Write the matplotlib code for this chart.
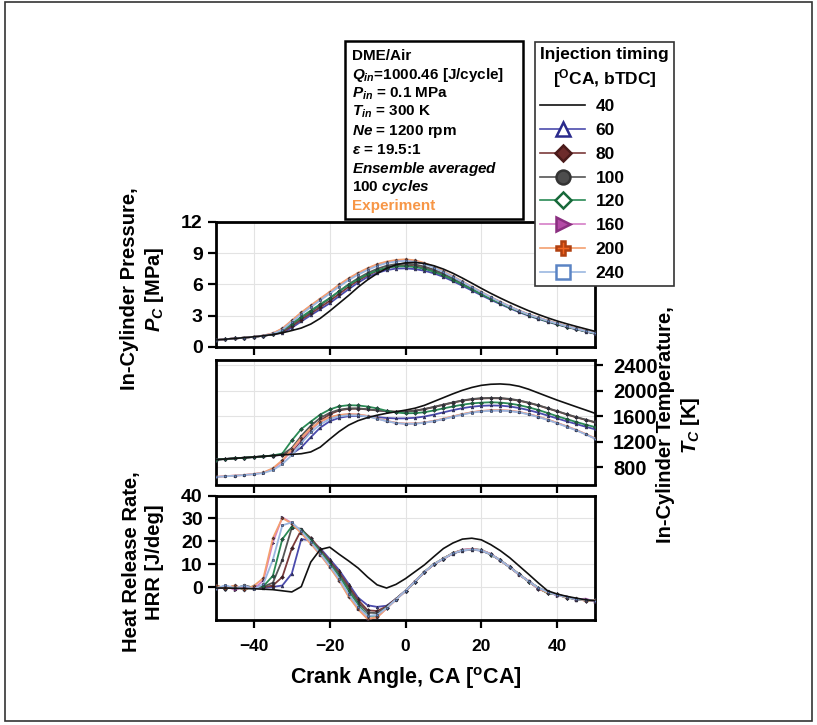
import numpy as np
import matplotlib
matplotlib.use("Agg")
import matplotlib.pyplot as plt
from matplotlib.lines import Line2D
from matplotlib.patches import Rectangle

plt.rcParams['font.family'] = ['Liberation Sans', 'DejaVu Sans']
plt.rcParams['font.weight'] = 'bold'
plt.rcParams['mathtext.fontset'] = 'custom'
plt.rcParams['mathtext.rm'] = 'Liberation Sans:bold'
plt.rcParams['mathtext.bf'] = 'Liberation Sans:bold'
plt.rcParams['mathtext.it'] = 'Liberation Sans:italic:bold'

# crank angle grid [deg CA], step 2.5
ca = np.arange(-50, 50.01, 2.5)

timings = ['40', '60', '80', '100', '120', '160', '200', '240']

# in-cylinder pressure [MPa]
p_40 = [0.67, 0.75, 0.82, 0.90, 0.98, 1.08, 1.20, 1.36, 1.58, 1.82, 2.2, 2.75, 3.45, 4.2, 4.95, 5.75, 6.45, 7.05, 7.55, 7.9, 8.08,
        8.12, 8.02, 7.8, 7.48, 7.08, 6.62, 6.13, 5.63, 5.15, 4.7, 4.27, 3.87, 3.48, 3.13, 2.8, 2.5, 2.23, 1.98, 1.74, 1.5]
p_60 = [0.67, 0.75, 0.82, 0.90, 0.98, 1.08, 1.20, 1.38, 1.85, 2.45, 3.05, 3.62, 4.2, 4.88, 5.55, 6.18, 6.72, 7.1, 7.38, 7.53, 7.55,
        7.48, 7.32, 7.07, 6.73, 6.32, 5.88, 5.42, 4.97, 4.53, 4.12, 3.72, 3.34, 3.0, 2.7, 2.42, 2.16, 1.92, 1.7, 1.48, 1.27]
p_80 = [0.67, 0.75, 0.82, 0.90, 0.98, 1.08, 1.21, 1.45, 2.0, 2.62, 3.22, 3.82, 4.42, 5.1, 5.78, 6.38, 6.9, 7.3, 7.6, 7.78, 7.83,
        7.76, 7.58, 7.3, 6.94, 6.52, 6.06, 5.59, 5.12, 4.66, 4.23, 3.82, 3.43, 3.08, 2.77, 2.48, 2.21, 1.96, 1.73, 1.51, 1.3]
p_100 = [0.67, 0.75, 0.82, 0.90, 0.98, 1.08, 1.22, 1.55, 2.15, 2.78, 3.4, 4.02, 4.65, 5.35, 6.02, 6.6, 7.1, 7.5, 7.8, 7.96, 8.0,
         7.92, 7.72, 7.42, 7.05, 6.62, 6.15, 5.67, 5.19, 4.72, 4.28, 3.86, 3.47, 3.11, 2.8, 2.5, 2.23, 1.98, 1.75, 1.53, 1.32]
p_120 = [0.67, 0.75, 0.82, 0.90, 0.98, 1.09, 1.25, 1.62, 2.25, 2.88, 3.5, 4.1, 4.7, 5.35, 5.98, 6.52, 6.98, 7.35, 7.6, 7.73, 7.75,
         7.68, 7.5, 7.22, 6.87, 6.45, 6.0, 5.53, 5.07, 4.62, 4.2, 3.79, 3.41, 3.06, 2.75, 2.46, 2.2, 1.95, 1.72, 1.5, 1.3]
p_160 = [0.67, 0.75, 0.82, 0.90, 0.98, 1.10, 1.30, 1.75, 2.52, 3.28, 3.95, 4.6, 5.25, 5.95, 6.55, 7.07, 7.52, 7.9, 8.15, 8.3, 8.35,
         8.26, 8.02, 7.67, 7.23, 6.77, 6.28, 5.78, 5.28, 4.79, 4.33, 3.89, 3.49, 3.13, 2.83, 2.53, 2.27, 2.0, 1.77, 1.55, 1.35]
p_200 = [0.67, 0.75, 0.82, 0.90, 0.98, 1.10, 1.32, 1.78, 2.55, 3.32, 4.0, 4.65, 5.3, 6.0, 6.6, 7.12, 7.57, 7.95, 8.2, 8.36, 8.42,
         8.32, 8.07, 7.72, 7.27, 6.8, 6.3, 5.8, 5.3, 4.8, 4.35, 3.9, 3.5, 3.15, 2.85, 2.55, 2.29, 2.02, 1.78, 1.56, 1.37]
p_240 = [0.67, 0.75, 0.82, 0.90, 0.98, 1.09, 1.26, 1.65, 2.4, 3.15, 3.82, 4.48, 5.12, 5.8, 6.42, 6.95, 7.4, 7.78, 8.05, 8.2, 8.27,
         8.18, 7.96, 7.62, 7.2, 6.74, 6.25, 5.76, 5.26, 4.78, 4.32, 3.88, 3.48, 3.12, 2.82, 2.52, 2.26, 2.0, 1.76, 1.54, 1.34]

# in-cylinder temperature [K]
t_40 = [920, 930, 940, 950, 960, 970, 983, 995, 1002, 1012, 1040, 1115, 1240, 1360, 1460, 1530, 1578, 1615, 1645, 1670, 1695,
        1725, 1770, 1830, 1890, 1950, 2005, 2050, 2083, 2100, 2105, 2095, 2068, 2022, 1965, 1908, 1852, 1800, 1748, 1697, 1645]
t_60 = [920, 930, 940, 950, 960, 970, 982, 993, 1010, 1110, 1270, 1420, 1520, 1575, 1600, 1605, 1598, 1585, 1572, 1565, 1566,
        1575, 1595, 1625, 1660, 1695, 1725, 1748, 1762, 1768, 1765, 1752, 1728, 1695, 1655, 1610, 1565, 1520, 1478, 1435, 1395]
t_80 = [920, 930, 940, 950, 960, 970, 982, 995, 1050, 1210, 1390, 1530, 1630, 1690, 1715, 1718, 1705, 1690, 1677, 1670, 1672,
        1686, 1710, 1743, 1778, 1812, 1842, 1864, 1877, 1882, 1879, 1866, 1842, 1808, 1768, 1722, 1676, 1628, 1583, 1543, 1502]
t_100 = [920, 930, 940, 950, 960, 970, 983, 1000, 1100, 1290, 1450, 1572, 1652, 1702, 1722, 1722, 1708, 1692, 1678, 1670, 1671,
         1687, 1712, 1746, 1782, 1816, 1847, 1869, 1882, 1887, 1884, 1871, 1847, 1812, 1772, 1726, 1680, 1632, 1587, 1547, 1507]
t_120 = [920, 930, 940, 950, 960, 970, 985, 1015, 1220, 1400, 1515, 1625, 1705, 1755, 1772, 1768, 1750, 1722, 1685, 1658, 1645,
         1648, 1662, 1690, 1722, 1752, 1780, 1800, 1812, 1818, 1813, 1798, 1773, 1738, 1698, 1650, 1600, 1555, 1510, 1468, 1430]
t_160 = [650, 660, 670, 680, 695, 715, 775, 895, 1065, 1245, 1400, 1510, 1580, 1615, 1630, 1625, 1602, 1565, 1525, 1495, 1482,
         1485, 1500, 1525, 1557, 1595, 1630, 1660, 1680, 1690, 1692, 1685, 1665, 1632, 1592, 1546, 1495, 1440, 1385, 1320, 1252]
t_200 = [650, 660, 670, 680, 695, 718, 785, 910, 1080, 1260, 1410, 1515, 1585, 1620, 1633, 1627, 1604, 1567, 1527, 1497, 1484,
         1487, 1502, 1527, 1560, 1598, 1633, 1663, 1683, 1693, 1695, 1687, 1667, 1634, 1594, 1548, 1497, 1442, 1387, 1322, 1255]
t_240 = [648, 658, 668, 678, 692, 710, 755, 850, 990, 1180, 1345, 1470, 1555, 1598, 1615, 1613, 1595, 1560, 1522, 1493, 1480,
         1482, 1497, 1522, 1553, 1590, 1625, 1655, 1675, 1685, 1687, 1680, 1660, 1627, 1587, 1541, 1490, 1435, 1380, 1316, 1248]

# heat release rate [J/deg]
h_40 = [-0.3, -0.3, -0.4, -0.5, -0.6, -0.8, -1.0, -1.5, -2.0, 0.3, 11.0, 16.5, 17.5, 14.4, 11.5, 8.4, 4.5, 1.1, -0.3, 1.3, 3.8,
        6.8, 9.8, 13.4, 16.9, 19.3, 21.0, 21.4, 20.7, 18.6, 16.0, 12.9, 9.3, 5.7, 2.0, -1.5, -2.9, -3.9, -4.7, -5.4, -5.8]
h_60 = [0.3, -0.6, 0.5, -0.4, 0.2, -0.2, 0.2, 0.8, 6.0, 21.0, 20.5, 17.0, 12.3, 7.5, 1.5, -4.5, -7.8, -8.5, -8.0, -5.0, -1.4,
        2.6, 6.7, 10.0, 12.4, 14.7, 16.0, 16.4, 16.0, 14.3, 11.8, 8.9, 5.7, 2.7, -0.2, -2.0, -3.3, -4.0, -5.3, -5.2, -6.0]
h_80 = [0.5, -0.3, 0.7, -0.8, 0.4, 0.0, 0.8, 4.5, 17.0, 25.0, 21.5, 16.5, 11.5, 6.5, 0.5, -5.5, -10.0, -10.3, -8.3, -5.0, -1.5,
        2.5, 6.6, 10.1, 12.5, 14.8, 16.1, 16.5, 16.1, 14.4, 11.8, 8.8, 5.6, 2.5, -0.5, -2.4, -3.0, -4.5, -4.9, -5.8, -5.6]
h_100 = [-0.4, 0.6, -0.5, 0.9, -0.2, 0.3, 2.0, 12.0, 26.0, 25.5, 21.0, 16.0, 11.0, 5.7, -0.5, -6.5, -11.0, -11.2, -8.6, -5.1, -1.6,
         2.4, 6.7, 10.0, 12.6, 14.9, 16.2, 16.6, 16.2, 14.5, 11.7, 8.7, 5.5, 2.7, -0.4, -1.8, -3.5, -4.0, -5.4, -5.3, -5.9]
h_120 = [0.8, -0.5, 0.3, -0.9, 0.6, 0.5, 5.0, 21.0, 26.5, 25.0, 20.5, 15.5, 10.3, 4.8, -1.5, -7.5, -12.5, -12.3, -9.0, -5.2, -1.6,
         2.5, 6.8, 10.2, 12.5, 14.9, 16.3, 16.7, 16.3, 14.3, 11.9, 8.8, 5.7, 2.5, -0.1, -2.6, -3.1, -4.6, -5.0, -5.7, -5.7]
h_160 = [-0.9, 0.7, -1.2, 0.5, -0.6, 3.0, 19.5, 30.5, 28.0, 23.8, 19.2, 14.3, 9.0, 3.1, -3.8, -9.3, -13.8, -13.0, -9.2, -5.3, -1.7,
         2.6, 6.6, 10.1, 12.4, 14.8, 16.4, 16.8, 16.2, 14.6, 11.7, 8.9, 5.4, 2.8, -0.6, -1.9, -3.6, -4.1, -5.3, -4.9, -6.2]
h_200 = [1.0, -0.7, 0.9, -1.1, 0.7, 4.0, 21.4, 30.2, 27.7, 23.6, 19.0, 14.2, 8.8, 2.9, -4.1, -9.6, -13.7, -13.1, -9.2, -5.3, -1.6,
         2.5, 6.7, 10.1, 12.5, 14.9, 16.2, 16.6, 16.2, 14.4, 11.8, 8.8, 5.6, 2.6, -0.3, -2.4, -2.9, -4.6, -4.8, -5.9, -5.5]
h_240 = [-0.5, 0.9, -0.4, 0.8, -0.9, 1.5, 12.0, 27.0, 28.3, 24.5, 19.8, 14.8, 9.5, 3.8, -3.0, -8.5, -12.5, -12.0, -9.0, -5.3, -1.5,
         2.5, 6.7, 10.1, 12.5, 14.8, 16.1, 16.5, 16.1, 14.4, 11.8, 8.8, 5.6, 2.6, -0.2, -2.0, -3.4, -4.2, -5.2, -5.4, -5.8]

pressure = dict(zip(timings, [p_40, p_60, p_80, p_100, p_120, p_160, p_200, p_240]))
temperature = dict(zip(timings, [t_40, t_60, t_80, t_100, t_120, t_160, t_200, t_240]))
hrr = dict(zip(timings, [h_40, h_60, h_80, h_100, h_120, h_160, h_200, h_240]))

# styles: line colour, marker, marker face, marker edge
styles = {
    '40':  ('#111111', None, None, None),
    '60':  ('#4b4bad', '^', 'white', '#2b2b8c'),
    '80':  ('#7b3b3b', 'D', '#6d2b2b', '#4a1a1a'),
    '100': ('#555555', 'o', '#4d4d4d', '#333333'),
    '120': ('#2a8a55', 'D', 'white', '#17693a'),
    '160': ('#d67fc7', '>', '#b44aa6', '#8a2f80'),
    '200': ('#f4a070', 'P', '#f26522', '#b04010'),
    '240': ('#9bb7e0', 's', 'white', '#5b84c4'),
}

fig = plt.figure(figsize=(8.17, 7.25), dpi=100)
W, H = 817.0, 725.0
ax1 = fig.add_axes([216 / W, 1 - 347 / H, 379 / W, 125 / H])
ax2 = fig.add_axes([216 / W, 1 - 484.5 / H, 379 / W, 124.5 / H])
ax3 = fig.add_axes([216 / W, 1 - 619.5 / H, 379 / W, 124 / H])

draw_order = ['60', '80', '100', '120', '160', '200', '240', '40']
for ax, data in [(ax1, pressure), (ax2, temperature), (ax3, hrr)]:
    for key in draw_order:
        col, mk, mfc, mec = styles[key]
        if mk is None:
            ax.plot(ca, data[key], color=col, lw=1.2, zorder=4)
        else:
            ax.plot(ca, data[key], color=col, lw=1.3, marker=mk, ms=2.0,
                    mfc=mec, mec='#2a2a3a', mew=0.4, zorder=3)

for ax in (ax1, ax2, ax3):
    ax.set_xlim(-50, 50)
    ax.set_xticks([-40, -20, 0, 20, 40])
    ax.grid(True, color='#e3e3e3', lw=0.8)
    ax.set_axisbelow(True)
    for s in ax.spines.values():
        s.set_linewidth(2)
    ax.tick_params(direction='out', width=1.6, length=6, labelsize=14)

ax1.set_ylim(0, 12)
ax1.set_yticks([0, 3, 6, 9, 12])
ax1.tick_params(axis='x', labelbottom=False)

ax2.set_ylim(530, 2480)
ax2.set_yticks([800, 1200, 1600, 2000, 2400])
ax2.yaxis.tick_right()
ax2.tick_params(axis='y', labelsize=14.5, pad=7)
ax2.tick_params(axis='x', labelbottom=False)

ax3.set_ylim(-14, 40)
ax3.set_yticks([0, 10, 20, 30, 40])
ax3.tick_params(axis='x', labelsize=12.5, pad=8)
ax3.set_xlabel('Crank Angle, CA [$^{\\mathrm{o}}$CA]', fontsize=15.5, fontweight='bold', labelpad=8)

fig.text(143 / W, 1 - 289 / H, 'In-Cylinder Pressure,\n$P_C$ [MPa]', rotation=90,
         ha='center', va='center', fontsize=14.5, fontweight='bold', multialignment='center')
fig.text(143 / W, 1 - 562 / H, 'Heat Release Rate,\nHRR [J/deg]', rotation=90,
         ha='center', va='center', fontsize=14.5, fontweight='bold', multialignment='center')
fig.text(679 / W, 1 - 425 / H, 'In-Cylinder Temperature,\n$T_C$ [K]', rotation=90,
         ha='center', va='center', fontsize=14.5, fontweight='bold', multialignment='center')

# condition box
fig.patches.append(Rectangle((345 / W, 1 - 219 / H), 178 / W, 178 / H, transform=fig.transFigure,
                             fc='white', ec='black', lw=1.8, zorder=5))
info = ['DME/Air', '$Q_{in}$=1000.46 [J/cycle]', '$P_{in}$ = 0.1 MPa', '$T_{in}$ = 300 K',
        '$Ne$ = 1200 rpm', '$\\varepsilon$ = 19.5:1', '$Ensemble$ $averaged$', '100 $cycles$', 'Experiment']
info_y = [56, 75, 94, 112, 131, 150, 169, 187, 206]
for txt, yy in zip(info, info_y):
    fig.text(352 / W, 1 - yy / H, txt, ha='left', va='center', fontsize=11, fontweight='bold',
             color='#f79646' if txt == 'Experiment' else 'black', zorder=6)

handles = []
for key in timings:
    col, mk, mfc, mec = styles[key]
    if mk is None:
        handles.append(Line2D([], [], color=col, lw=1.2))
    else:
        handles.append(Line2D([], [], color=col, lw=1.2, marker=mk, ms=10 if mk != 'D' else 8,
                              mfc=mfc, mec=mec, mew=1.8))
leg = fig.legend(handles, timings, loc='upper left', bbox_to_anchor=(535 / W, 1 - 42 / H),
                 title='Injection timing\n[$^{\\mathrm{O}}$CA, bTDC]',
                 prop={'weight': 'bold', 'size': 12.5}, title_fontproperties={'weight': 'bold', 'size': 12.5},
                 frameon=True, fancybox=False, edgecolor='#333333', framealpha=1, alignment='left',
                 handlelength=2.6, handletextpad=0.6, labelspacing=0.5, borderpad=0.3, borderaxespad=0)
leg.get_title().set_multialignment('center')
leg.get_title().set_linespacing(1.3)
leg.get_frame().set_linewidth(1.2)

fig.patches.append(Rectangle((5 / W, 4 / H), 807 / W, 719 / H, transform=fig.transFigure,
                             fill=False, ec='#333333', lw=1.2))

fig.savefig('out.png', dpi=100)
